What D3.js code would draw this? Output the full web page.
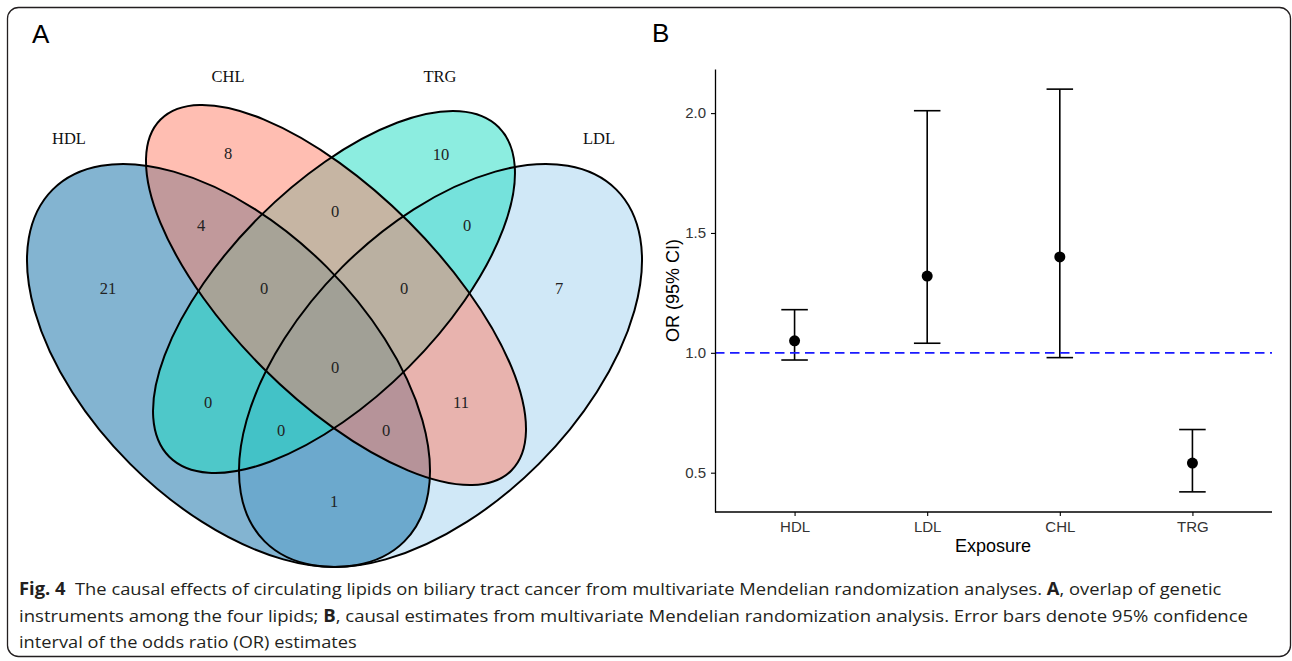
<!DOCTYPE html>
<html>
<head>
<meta charset="utf-8">
<script src="https://cdn.jsdelivr.net/npm/d3@7"></script>
<style>
  body { margin: 0; background: #fff; }
  svg { display: block; }
</style>
</head>
<body>
<div id="wrapper"></div>
<script>
// ---- data ----
const setNames = ["HDL", "CHL", "TRG", "LDL"]
const regionSets = [
  "HDL", "CHL", "TRG", "LDL",
  "HDL+CHL", "CHL+TRG", "TRG+LDL",
  "HDL+CHL+TRG", "CHL+TRG+LDL", "HDL+CHL+TRG+LDL",
  "HDL+TRG", "CHL+LDL", "HDL+TRG+LDL", "HDL+CHL+LDL", "HDL+LDL"
]
const regionCounts = [21, 8, 10, 7, 4, 0, 0, 0, 0, 0, 0, 11, 0, 0, 1]

const exposures = ["HDL", "LDL", "CHL", "TRG"]
const orValues = [1.05, 1.32, 1.40, 0.54]
const ciLower = [0.97, 1.04, 0.98, 0.42]
const ciUpper = [1.18, 2.01, 2.10, 0.68]
const yTickValues = [0.5, 1.0, 1.5, 2.0]

const captionLines = [
  [["Fig. 4", true], ["  The causal effects of circulating lipids on biliary tract cancer from multivariate Mendelian randomization analyses. ", false], ["A", true], [", overlap of genetic", false]],
  [["instruments among the four lipids; ", false], ["B", true], [", causal estimates from multivariate Mendelian randomization analysis. Error bars denote 95% confidence", false]],
  [["interval of the odds ratio (OR) estimates", false]],
]

// ---- layout ----
// venn ellipses in draw order (fills are translucent, so order matters)
const vennEllipses = [
  { set: "LDL", cx: 440.5, cy: 365.5, rx: 248.7, ry: 139.1, angle: -45, fill: "rgb(161,209,239)" },
  { set: "HDL", cx: 228.5, cy: 365.5, rx: 248.7, ry: 139.1, angle: 45, fill: "rgb(7,105,163)" },
  { set: "TRG", cx: 334, cy: 292, rx: 233, ry: 105.9, angle: -45, fill: "rgb(25,219,193)" },
  { set: "CHL", cx: 336, cy: 295, rx: 248.1, ry: 103.2, angle: 45, fill: "rgb(255,125,101)" },
]
const setLabelPos = { HDL: [69, 144], CHL: [228, 82], TRG: [440, 82], LDL: [599, 144] }
const regionLabelPos = {
  "HDL": [108, 288], "CHL": [228, 153], "TRG": [441, 154], "LDL": [559, 288],
  "HDL+CHL": [201, 225], "CHL+TRG": [335, 211], "TRG+LDL": [467, 225],
  "HDL+CHL+TRG": [264, 288], "CHL+TRG+LDL": [404, 288], "HDL+CHL+TRG+LDL": [335, 367],
  "HDL+TRG": [208, 402], "CHL+LDL": [461, 402], "HDL+TRG+LDL": [281, 430],
  "HDL+CHL+LDL": [386, 430], "HDL+LDL": [334, 501],
}
const captionTargets = [
  { x: 19, y: 595, end: 1222 },
  { x: 19, y: 622, end: 1249 },
  { x: 19, y: 648, end: 357 },
]

function drawFigure() {
  const width = 1292
  const height = 661

  const svg = d3.select("#wrapper")
    .append("svg")
    .attr("width", width)
    .attr("height", height)

  // frame
  svg.append("rect")
    .attr("x", 7.5)
    .attr("y", 7.5)
    .attr("width", 1283)
    .attr("height", 649)
    .attr("rx", 11)
    .attr("fill", "none")
    .attr("stroke", "#231f20")
    .attr("stroke-width", 1.3)

  // panel letters
  svg.append("text")
    .attr("x", 32).attr("y", 43)
    .style("font-family", "'Liberation Sans', Arial, sans-serif")
    .style("font-size", "26px")
    .text("A")
  svg.append("text")
    .attr("x", 652).attr("y", 42)
    .style("font-family", "'Liberation Sans', Arial, sans-serif")
    .style("font-size", "26px")
    .text("B")

  // ---- A: venn ----
  const venn = svg.append("g")

  venn.selectAll("ellipse.fill")
    .data(vennEllipses)
    .enter().append("ellipse")
    .attr("class", "fill")
    .attr("cx", 0).attr("cy", 0)
    .attr("rx", d => d.rx)
    .attr("ry", d => d.ry)
    .attr("transform", d => `translate(${d.cx},${d.cy}) rotate(${d.angle})`)
    .attr("fill", d => d.fill)
    .attr("fill-opacity", 0.5)

  venn.selectAll("ellipse.edge")
    .data(vennEllipses)
    .enter().append("ellipse")
    .attr("class", "edge")
    .attr("cx", 0).attr("cy", 0)
    .attr("rx", d => d.rx)
    .attr("ry", d => d.ry)
    .attr("transform", d => `translate(${d.cx},${d.cy}) rotate(${d.angle})`)
    .attr("fill", "none")
    .attr("stroke", "#000")
    .attr("stroke-width", 2)

  venn.selectAll("text.set")
    .data(setNames)
    .enter().append("text")
    .attr("class", "set")
    .attr("x", d => setLabelPos[d][0])
    .attr("y", d => setLabelPos[d][1])
    .attr("text-anchor", "middle")
    .style("font-family", "'Liberation Serif', 'Times New Roman', serif")
    .style("font-size", "16.5px")
    .attr("fill", "#111")
    .text(d => d)

  venn.selectAll("text.count")
    .data(regionSets.map((r, i) => ({ region: r, count: regionCounts[i] })))
    .enter().append("text")
    .attr("class", "count")
    .attr("x", d => regionLabelPos[d.region][0])
    .attr("y", d => regionLabelPos[d.region][1] + 5.6)
    .attr("text-anchor", "middle")
    .style("font-family", "'Liberation Serif', 'Times New Roman', serif")
    .style("font-size", "16.5px")
    .attr("fill", "#222")
    .text(d => d.count)

  // ---- B: odds ratio plot ----
  const plot = { left: 715, right: 1272, top: 69, bottom: 512 }

  const lo = d3.min(ciLower)
  const hi = d3.max(ciUpper)
  const pad = (hi - lo) * 0.05

  const yScale = d3.scaleLinear()
    .domain([lo - pad, hi + pad])
    .range([plot.bottom, plot.top])

  const xScale = d3.scalePoint()
    .domain(exposures)
    .range([plot.left, plot.right])
    .padding(0.6)

  const capHalf = xScale.step() * 0.1
  const rows = exposures.map((e, i) => ({ e, or: orValues[i], lo: ciLower[i], hi: ciUpper[i] }))

  const bars = svg.append("g")
    .attr("stroke", "#000")
    .attr("stroke-width", 1.6)

  bars.selectAll("line.v")
    .data(rows)
    .enter().append("line")
    .attr("x1", d => xScale(d.e)).attr("x2", d => xScale(d.e))
    .attr("y1", d => yScale(d.lo)).attr("y2", d => yScale(d.hi))

  bars.selectAll("line.top")
    .data(rows)
    .enter().append("line")
    .attr("x1", d => xScale(d.e) - capHalf).attr("x2", d => xScale(d.e) + capHalf)
    .attr("y1", d => yScale(d.hi)).attr("y2", d => yScale(d.hi))

  bars.selectAll("line.bottom")
    .data(rows)
    .enter().append("line")
    .attr("x1", d => xScale(d.e) - capHalf).attr("x2", d => xScale(d.e) + capHalf)
    .attr("y1", d => yScale(d.lo)).attr("y2", d => yScale(d.lo))

  svg.append("g").selectAll("circle")
    .data(rows)
    .enter().append("circle")
    .attr("cx", d => xScale(d.e))
    .attr("cy", d => yScale(d.or))
    .attr("r", 5.5)
    .attr("fill", "#000")

  // reference line at OR = 1
  svg.append("line")
    .attr("x1", plot.left).attr("x2", plot.right)
    .attr("y1", yScale(1)).attr("y2", yScale(1))
    .attr("stroke", "#1a1aff")
    .attr("stroke-width", 1.8)
    .attr("stroke-dasharray", "9.5,5.5")

  // axes
  const yAxis = svg.append("g")
    .attr("transform", `translate(${plot.left},0)`)
    .call(d3.axisLeft(yScale)
      .tickValues(yTickValues)
      .tickFormat(d3.format(".1f"))
      .tickSize(4)
      .tickSizeOuter(0)
      .tickPadding(5))
  yAxis.select(".domain").attr("stroke-width", 1.3)
  yAxis.selectAll(".tick line").attr("stroke-width", 1.1)
  yAxis.selectAll("text")
    .style("font-family", "'Liberation Sans', Arial, sans-serif")
    .style("font-size", "15px")
    .attr("fill", "#333")

  const xAxis = svg.append("g")
    .attr("transform", `translate(0,${plot.bottom})`)
    .call(d3.axisBottom(xScale)
      .tickSize(4)
      .tickSizeOuter(0)
      .tickPadding(5))
  xAxis.select(".domain")
    .attr("d", `M${plot.left},0H${plot.right}`)
    .attr("stroke-width", 1.3)
  xAxis.selectAll(".tick line").attr("stroke-width", 1.1)
  xAxis.selectAll("text")
    .style("font-family", "'Liberation Sans', Arial, sans-serif")
    .style("font-size", "15px")
    .attr("fill", "#333")

  svg.append("text")
    .attr("x", (plot.left + plot.right) / 2 - 0.5)
    .attr("y", 552)
    .attr("text-anchor", "middle")
    .style("font-family", "'Liberation Sans', Arial, sans-serif")
    .style("font-size", "18px")
    .text("Exposure")

  svg.append("text")
    .attr("transform", `translate(679,${(plot.top + plot.bottom) / 2}) rotate(-90)`)
    .attr("text-anchor", "middle")
    .style("font-family", "'Liberation Sans', Arial, sans-serif")
    .style("font-size", "18px")
    .text("OR (95% CI)")

  // ---- caption ----
  captionLines.forEach((segs, i) => {
    const t = captionTargets[i]
    const line = svg.append("text")
      .style("font-family", "'Liberation Sans Narrow', 'Open Sans', 'Noto Sans', sans-serif")
      .style("font-size", "17px")
      .attr("fill", "#231f20")
    segs.forEach(([str, bold]) => {
      line.append("tspan")
        .attr("font-weight", bold ? "bold" : "normal")
        .style("white-space", "pre")
        .text(str)
    })
    line.attr("xml:space", "preserve")
    const w = line.node().getComputedTextLength()
    const k = (t.end - t.x) / w
    line.attr("transform", `translate(${t.x},${t.y}) scale(${k},1)`)
  })
}

drawFigure()
</script>
</body>
</html>
